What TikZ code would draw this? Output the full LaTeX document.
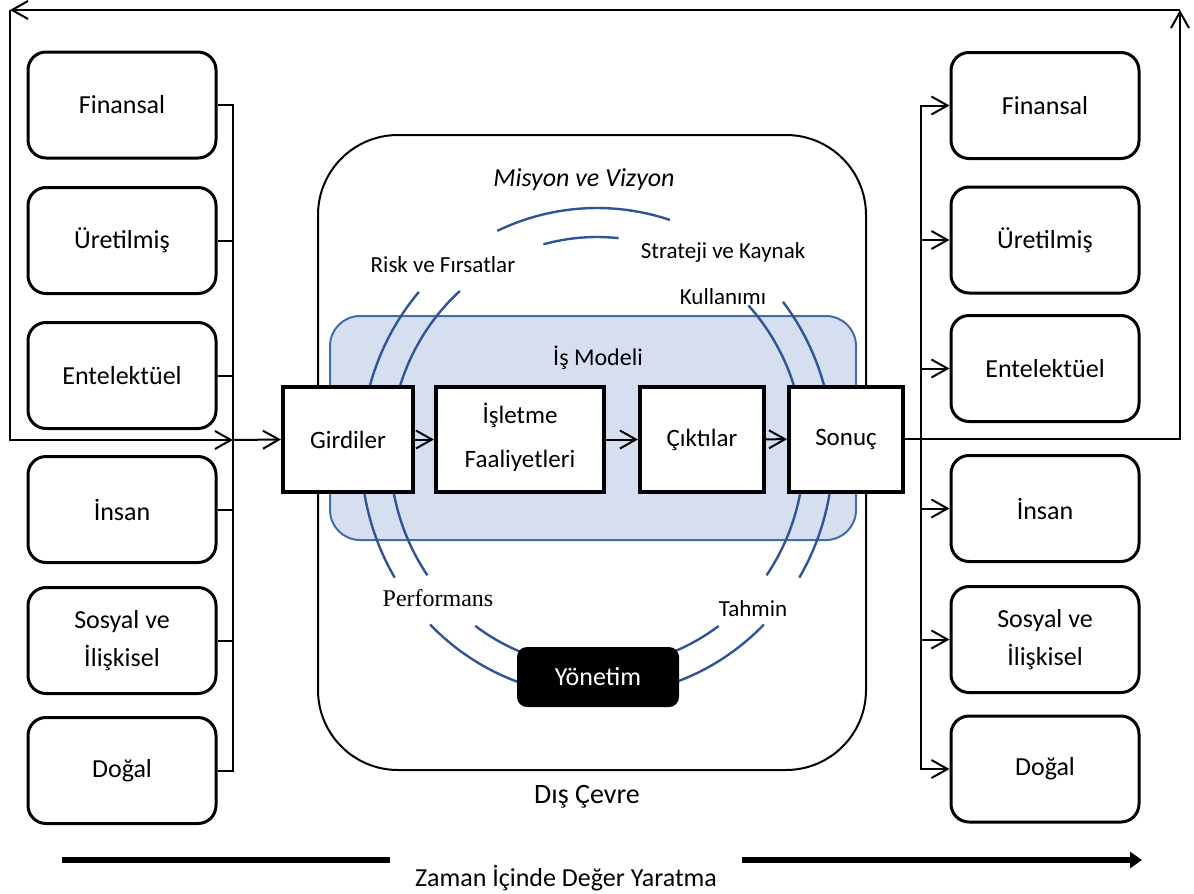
\documentclass[tikz,border=0pt]{standalone}
\usepackage{fontspec}
\setmainfont{Carlito}
\newfontfamily\perffont{Liberation Serif}
\usepackage{xcolor}
\usepackage{tikz}
\usetikzlibrary{positioning,calc,arrows.meta}

\definecolor{ringblue}{RGB}{48,84,152}
\definecolor{modelblue}{RGB}{68,108,170}
\definecolor{modelfill}{RGB}{214,223,240}

\tikzset{
  capbox/.style={draw,line width=1.5pt,rounded corners=9pt,minimum width=94pt,minimum height=53pt,align=center,font=\fontsize{13}{19}\selectfont},
  procbox/.style={draw,fill=white,line width=2pt,minimum height=52.5pt,align=center,font=\fontsize{12.5}{22}\selectfont},
  lbl/.style={inner sep=1pt,font=\fontsize{11.5}{13}\selectfont},
  flow/.style={line width=1pt,-{Straight Barb[length=8pt,width=9pt]}},
  wire/.style={line width=1pt},
  ring/.style={draw=ringblue,line width=1.2pt}
}

\begin{document}
\begin{tikzpicture}[x=0.5pt,y=-0.5pt]
  \useasboundingbox (0,0) rectangle (1194,894);
  \def\cx{597}
  \def\cy{452}
  % kaynaklar (sol)
  \node[capbox] (lfin) at (122,105) {Finansal};
  \node[capbox] (luret) at (122,240.5) {Üretilmiş};
  \node[capbox] (lente) at (122,375.5) {Entelektüel};
  \node[capbox] (linsan) at (122,509.5) {İnsan};
  \node[capbox] (lsosyal) at (122,640.5) {Sosyal ve\\İlişkisel};
  \node[capbox] (ldogal) at (122,770.5) {Doğal};
  % kaynaklar (sag)
  \node[capbox] (rfin) at (1045,105.5) {Finansal};
  \node[capbox] (ruret) at (1045,240) {Üretilmiş};
  \node[capbox] (rente) at (1045,368.5) {Entelektüel};
  \node[capbox] (rinsan) at (1045,508.5) {İnsan};
  \node[capbox] (rsosyal) at (1045,639.5) {Sosyal ve\\İlişkisel};
  \node[capbox] (rdogal) at (1045,769) {Doğal};
  % dis cevre ve is modeli
  \draw[line width=1pt,rounded corners=40pt] (318,135) rectangle (866,770);
  \draw[draw=modelblue,fill=modelfill,line width=1pt,rounded corners=15pt] (330,316) rectangle (856,540);
  \foreach \a/\b in {-115/-72,-38/31,45/135,149/221}
    \draw[ring] (\cx,\cy) ++(\a:236 and 244) arc[start angle=\a,end angle=\b,x radius=236,y radius=244];
  \foreach \a/\b in {-105/-84,-43/35,54/126,145/228.5}
    \draw[ring] (\cx,\cy) ++(\a:207 and 215) arc[start angle=\a,end angle=\b,x radius=207,y radius=215];
  \node[procbox,minimum width=65pt] (girdiler) at (348,439.5) {Girdiler};
  \node[procbox,minimum width=84pt,text depth=4pt] (isletme) at (520,439.5) {İşletme\\Faaliyetleri};
  \node[procbox,minimum width=62pt] (ciktilar) at (702,439.5) {Çıktılar};
  \node[procbox,minimum width=57pt] (sonuc) at (846,439) {Sonuç};
  \node[fill=black,text=white,rounded corners=5pt,minimum width=81pt,minimum height=30pt,font=\fontsize{13}{14}\selectfont] (yonetim) at (598,677) {Yönetim};
  \node[font=\itshape\fontsize{13}{15}\selectfont] (misyon) at (584,180) {Misyon ve Vizyon};
  \node[lbl] (risk) at (443,265) {Risk ve Fırsatlar};
  \node[lbl] (strateji) at (723,252) {Strateji ve Kaynak};
  \node[lbl] (kullanim) at (723,297) {Kullanımı};
  \node[font=\fontsize{12}{14}\selectfont] (ismodeli) at (598,358) {İş Modeli};
  \node[lbl,font=\perffont\fontsize{12}{14}\selectfont] (perf) at (438,598) {Performans};
  \node[lbl] (tahmin) at (753,609) {Tahmin};
  \node[font=\fontsize{14}{16}\selectfont] (dis) at (587,797) {Dış Çevre};
  % baglantilar
  \coordinate (lbus) at (233,440);
  \coordinate (rbus) at (921,439);
  \coordinate (nw) at (10,10);
  \coordinate (ne) at (1180,10);
  \draw[wire] (lfin.east) -| (lbus);
  \draw[wire] (ldogal.east) -| (lbus);
  \foreach \n in {luret,lente,linsan,lsosyal}
    \draw[wire] (\n.east) -- (\n.east -| lbus);
  \draw[flow] (nw) |- (lbus);
  \draw[flow] (lbus) -- (girdiler.west);
  \draw[flow] (girdiler) -- (isletme);
  \draw[flow] (isletme) -- (ciktilar);
  \draw[flow] (ciktilar) -- (sonuc);
  \draw[flow] (sonuc.east) -| (ne);
  \draw[flow] (ne) -- (nw);
  \foreach \n in {rfin,ruret,rente,rinsan,rsosyal,rdogal}
    \draw[flow] (rbus) |- (\n.west);
  % zaman ekseni
  \coordinate (tstart) at (62,860);
  \coordinate (tend) at (1142,860);
  \draw[line width=3pt,-{Triangle[length=6pt,width=8pt]}] (tstart) -- (tend);
  \node[fill=white,minimum width=176pt,minimum height=34pt,font=\fontsize{13}{15}\selectfont] (zaman) at (566,878) {Zaman İçinde Değer Yaratma};
\end{tikzpicture}
\end{document}
